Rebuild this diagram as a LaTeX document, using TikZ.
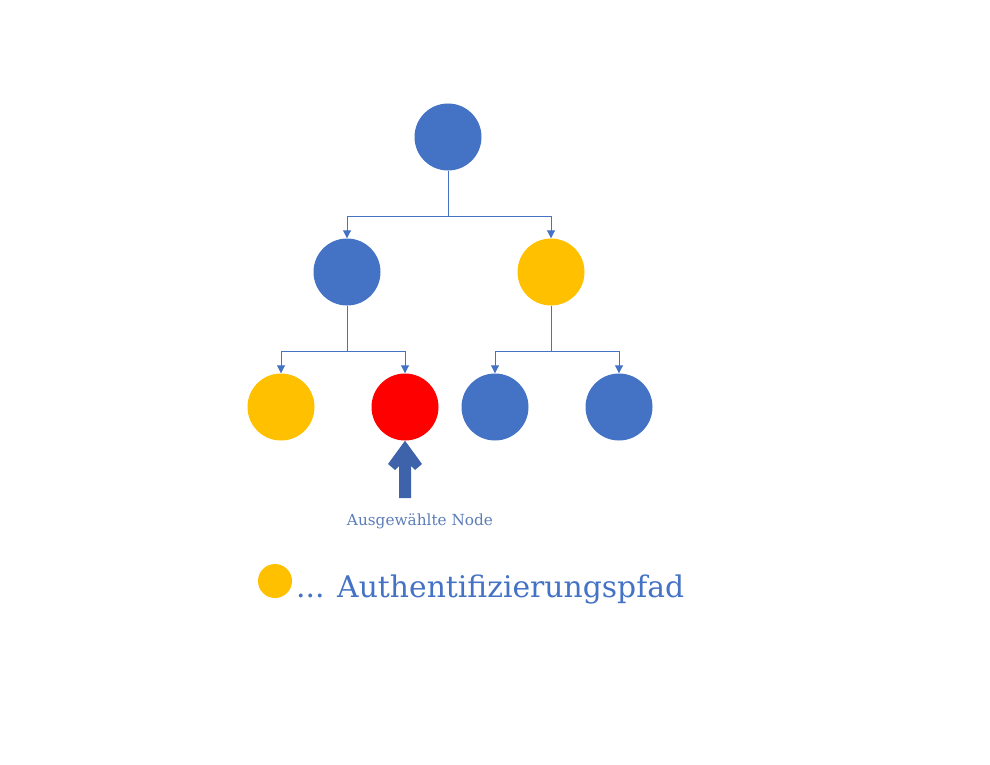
\documentclass[tikz,border=0pt]{standalone}
\usepackage{fontspec}
\setmainfont{DejaVu Serif}
\usetikzlibrary{arrows.meta,positioning}
\definecolor{treeblue}{HTML}{4472C4}
\definecolor{pathyellow}{HTML}{FFC000}
\definecolor{leafred}{HTML}{FF0000}
\definecolor{pointblue}{HTML}{3F63AA}
\definecolor{labelblue}{HTML}{5B7DB8}
\begin{document}
\begin{tikzpicture}[x=1pt,y=-1pt,% pixel grid of the reference
			every node/.style={
				align=center,
				inner sep=0pt
			},
			knot/.style={circle,minimum size=67pt,fill=#1},
			conn/.style={draw=treeblue,line width=0.9pt,-{Triangle[width=8pt,length=8pt]}}
		]
		\useasboundingbox (0,0) rectangle (990,765);
		% tree
		\node[knot=treeblue](R0) at (448,137){};
		\node[knot=treeblue](L1) at (347,272){};
		\node[knot=pathyellow](R1) at (551,272){};
		\node[knot=pathyellow](LL) at (281,407){};
		\node[knot=leafred](LR) at (405,407){};
		\node[knot=treeblue](RL) at (495,407){};
		\node[knot=treeblue](RR) at (619,407){};
		\coordinate (J0) at (448,216);
		\coordinate (J1) at (347,351);
		\coordinate (J2) at (551,351);
		\draw[conn] (R0.south) -- (J0) -| (L1.north);
		\draw[conn] (R0.south) -- (J0) -| (R1.north);
		\draw[conn] (L1.south) -- (J1) -| (LL.north);
		\draw[conn] (L1.south) -- (J1) -| (LR.north);
		\draw[conn] (R1.south) -- (J2) -| (RL.north);
		\draw[conn] (R1.south) -- (J2) -| (RR.north);
		% pointer to the selected node
		\fill[pointblue] (LR.south) -- (422,464) -- (415,470) -- (411,466) -- (411,498)
			-- (399,498) -- (399,466) -- (395,470) -- (388,464) -- cycle;
		\node[text=labelblue,font=\fontsize{15.3}{18}\selectfont](SEL) at (420,521){Ausgewählte Node};
		% legend
		\node[circle,minimum size=34pt,fill=pathyellow](KEY) at (275,581){};
		\node[text=treeblue,font=\fontsize{29.8}{34}\selectfont,anchor=west](KEYT) at (296,589){... Authentifizierungspfad};
	\end{tikzpicture}
\end{document}
